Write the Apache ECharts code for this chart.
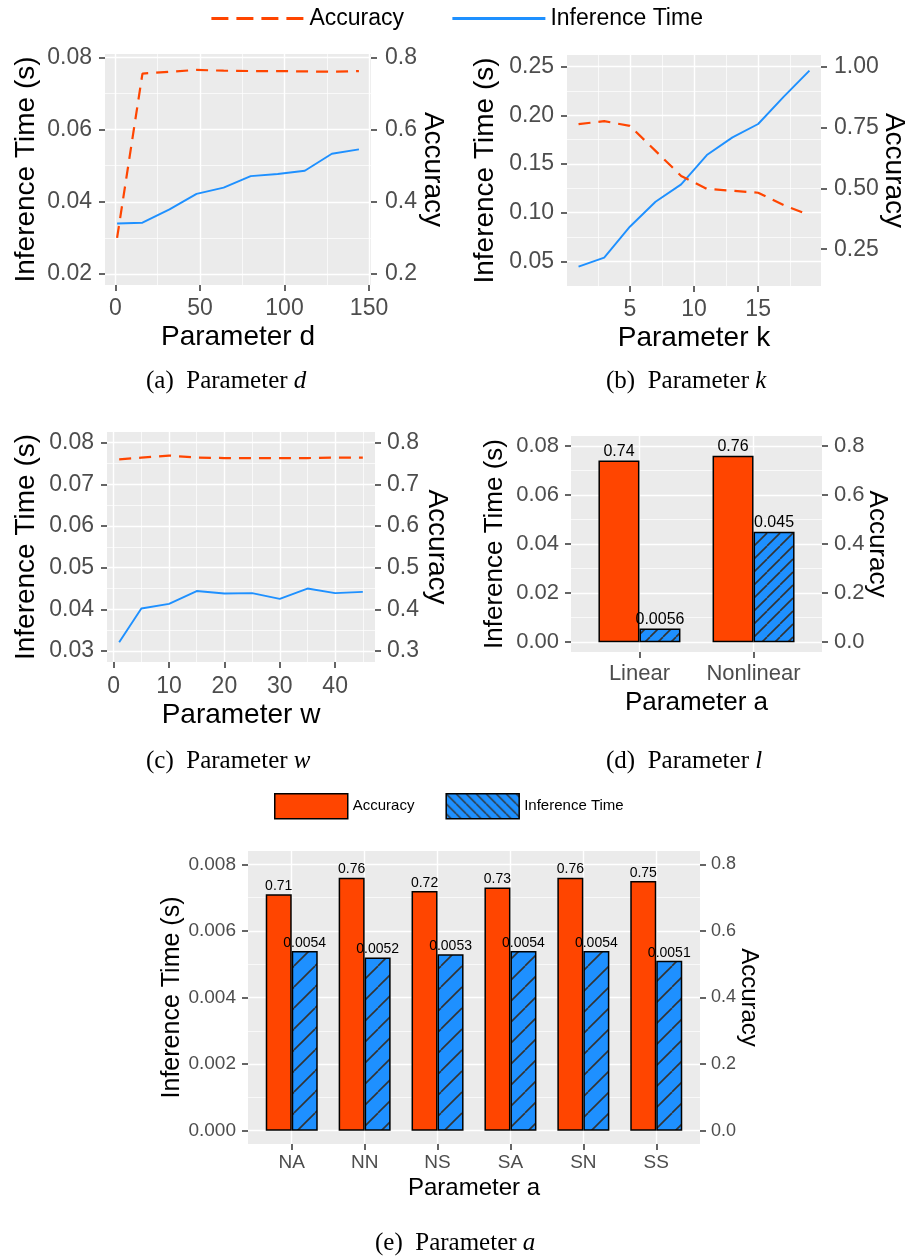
<!DOCTYPE html>
<html><head><meta charset="utf-8">
<script src="https://cdn.jsdelivr.net/npm/echarts@6/dist/echarts.min.js"></script>
<style>html,body{margin:0;padding:0;background:#fff}#c{width:909px;height:1259px}</style>
</head><body><div id="c"></div>
<script>
// ---------- data ----------
const dParam = [1, 16, 32, 48, 64, 80, 96, 112, 128, 144];
const dTime  = [0.0340, 0.0342, 0.0379, 0.0422, 0.0439, 0.0471, 0.0477, 0.0486, 0.0533, 0.0545];
const dAcc   = [0.300, 0.755, 0.760, 0.765, 0.763, 0.762, 0.762, 0.761, 0.760, 0.762];

const kParam = [1, 3, 5, 7, 9, 11, 13, 15, 17, 19];
const kTime  = [0.0445, 0.0538, 0.0856, 0.1113, 0.1291, 0.1592, 0.1774, 0.1911, 0.2192, 0.2459];
const kAcc   = [0.764, 0.776, 0.757, 0.654, 0.551, 0.498, 0.490, 0.482, 0.431, 0.390];

const wParam = [1, 5, 10, 15, 20, 25, 30, 35, 40, 45];
const wTime  = [0.0321, 0.0402, 0.0413, 0.0444, 0.0438, 0.0439, 0.0425, 0.0450, 0.0439, 0.0442];
const wAcc   = [0.760, 0.764, 0.769, 0.764, 0.763, 0.763, 0.763, 0.763, 0.764, 0.764];

const lCats = ['Linear', 'Nonlinear'];
const lAcc  = [0.74, 0.76];
const lTime = [0.0056, 0.045];

const aCats = ['NA', 'NN', 'NS', 'SA', 'SN', 'SS'];
const aAcc  = [0.71, 0.76, 0.72, 0.73, 0.76, 0.75];
const aTime = [0.0054, 0.0052, 0.0053, 0.0054, 0.0054, 0.0051];

// ---------- tick labels ----------
const dXTicks = [0, 50, 100, 150], dXMinor = [25, 75, 125];
const dYTicks = [0.02, 0.04, 0.06, 0.08], dYMinor = [0.03, 0.05, 0.07];
const dAccTicks = [0.2, 0.4, 0.6, 0.8];

const kXTicks = [5, 10, 15], kXMinor = [2.5, 7.5, 12.5, 17.5];
const kYTicks = [0.05, 0.10, 0.15, 0.20, 0.25], kYMinor = [0.075, 0.125, 0.175, 0.225];
const kAccTicks = [0.25, 0.50, 0.75, 1.00];

const wXTicks = [0, 10, 20, 30, 40], wXMinor = [5, 15, 25, 35, 45];
const wYTicks = [0.03, 0.04, 0.05, 0.06, 0.07, 0.08], wYMinor = [0.035, 0.045, 0.055, 0.065, 0.075];
const wAccTicks = [0.3, 0.4, 0.5, 0.6, 0.7, 0.8];

const lYTicks = [0, 0.02, 0.04, 0.06, 0.08], lYMinor = [0.01, 0.03, 0.05, 0.07];
const lAccTicks = [0, 0.2, 0.4, 0.6, 0.8];

const aYTicks = [0, 0.002, 0.004, 0.006, 0.008], aYMinor = [0.001, 0.003, 0.005, 0.007];
const aAccTicks = [0, 0.2, 0.4, 0.6, 0.8];

// ---------- styling helpers ----------
const ORANGE = '#FF4500', BLUE = '#1E90FF', FONT = 'Liberation Sans';
function makeHatch(size, dir, lw) {
  const c = document.createElement('canvas'); c.width = size; c.height = size;
  const g = c.getContext('2d');
  g.fillStyle = BLUE; g.fillRect(0, 0, size, size);
  g.strokeStyle = '#333'; g.lineWidth = lw;
  for (let k = -1; k <= 1; k++) {
    g.beginPath();
    if (dir === '/') { g.moveTo(k * size, size); g.lineTo(k * size + size, 0); }
    else { g.moveTo(k * size, 0); g.lineTo(k * size + size, size); }
    g.stroke();
  }
  return { image: c, repeat: 'repeat' };
}
const hatchD = makeHatch(13, '/', 1.6);
const hatchE = makeHatch(21, '/', 1.6);
const hatchLegend = makeHatch(10, '\\', 1.4);

const option = {
  animation: false,
  textStyle: { fontFamily: FONT },
  grid: [], xAxis: [], yAxis: [], series: [], legend: [], title: []
};

function fmt(n) { return v => Number(v).toFixed(n); }

function addPanel(p) {
  const gi = option.grid.length;
  option.grid.push({ left: p.left, top: p.top, width: p.width, height: p.height, show: true,
    backgroundColor: '#EBEBEB', borderWidth: 0, containLabel: false, outerBoundsMode: 'none' });
  const xi = option.xAxis.length, yi = option.yAxis.length;
  const tickStyle = { show: true, length: 6, lineStyle: { color: '#333', width: 1.5 } };
  const labStyle = { show: true, fontSize: p.tickSize, color: '#4D4D4D', fontFamily: FONT };
  option.xAxis.push({ type: 'value', gridIndex: gi, position: 'bottom', min: p.xMin, max: p.xMax,
    name: p.xName, nameLocation: 'middle', nameGap: p.xNameGap, nameMoveOverlap: false,
    nameTextStyle: { fontSize: p.titleSize, color: '#000', fontFamily: FONT },
    axisLine: { show: false, onZero: false },
    axisTick: Object.assign({}, tickStyle, { customValues: p.xTicks }),
    axisLabel: Object.assign({}, labStyle, { customValues: p.xTicks, formatter: p.xFmt, margin: p.xLabelMargin }),
    splitLine: { show: true, lineStyle: { color: '#fff', width: 1.4 } } });
  option.xAxis.push({ type: 'value', gridIndex: gi, position: 'top', min: p.xMin, max: p.xMax,
    axisLine: { show: false, onZero: false }, axisTick: { show: false, customValues: p.xMinor },
    axisLabel: { show: false }, splitLine: { show: p.xMinor.length > 0, lineStyle: { color: '#fff', width: 0.7 } } });
  option.yAxis.push({ type: 'value', gridIndex: gi, position: 'left', min: p.yMin, max: p.yMax,
    name: 'Inference Time (s)', nameLocation: 'middle', nameGap: p.yNameGap, nameRotate: 90, nameMoveOverlap: false,
    nameTextStyle: { fontSize: p.yTitleSize || p.titleSize, color: '#000', fontFamily: FONT },
    axisLine: { show: false, onZero: false },
    axisTick: Object.assign({}, tickStyle, { customValues: p.yTicks }),
    axisLabel: Object.assign({}, labStyle, { customValues: p.yTicks, formatter: fmt(p.yDec), margin: p.yLabelMargin }),
    splitLine: { show: true, lineStyle: { color: '#fff', width: 1.4 } } });
  option.yAxis.push({ type: 'value', gridIndex: gi, position: 'right', min: p.yMin * p.factor, max: p.yMax * p.factor,
    name: 'Accuracy', nameLocation: 'middle', nameGap: p.rNameGap, nameRotate: -90, nameMoveOverlap: false,
    nameTextStyle: { fontSize: p.titleSize, color: '#000', fontFamily: FONT },
    axisLine: { show: false, onZero: false },
    axisTick: Object.assign({}, tickStyle, { customValues: p.accTicks }),
    axisLabel: Object.assign({}, labStyle, { fontSize: p.rTickSize || p.tickSize, customValues: p.accTicks, formatter: fmt(p.accDec), margin: p.rLabelMargin }),
    splitLine: { show: false } });
  option.yAxis.push({ type: 'value', gridIndex: gi, position: 'left', min: p.yMin, max: p.yMax,
    axisLine: { show: false, onZero: false }, axisTick: { show: false, customValues: p.yMinor },
    axisLabel: { show: false }, splitLine: { show: true, lineStyle: { color: '#fff', width: 0.7 } } });

  if (p.kind === 'line') {
    option.series.push({ type: 'line', name: 'Accuracy', xAxisIndex: xi, yAxisIndex: yi + 1,
      data: p.param.map((x, i) => [x, p.acc[i]]), symbol: 'none', z: 3,
      lineStyle: { color: ORANGE, width: 2.2, type: [12, 8] }, itemStyle: { color: ORANGE } });
    option.series.push({ type: 'line', name: 'Inference Time', xAxisIndex: xi, yAxisIndex: yi,
      data: p.param.map((x, i) => [x, p.time[i]]), symbol: 'none', z: 2,
      lineStyle: { color: BLUE, width: 1.9 }, itemStyle: { color: BLUE } });
  } else {
    const lab = { show: true, position: 'top', distance: 1, fontSize: p.labelSize, color: '#000', fontFamily: FONT,
      formatter: q => String(q.value[1]) };
    option.series.push({ type: 'bar', name: 'Accuracy', xAxisIndex: xi, yAxisIndex: yi + 1,
      data: p.cats.map((c, i) => [i + 1, p.acc[i]]), barWidth: p.barW, barGap: '0%',
      itemStyle: { color: ORANGE, borderColor: '#000', borderWidth: 1.5 }, label: lab });
    option.series.push({ type: 'bar', name: 'Inference Time', xAxisIndex: xi, yAxisIndex: yi,
      data: p.cats.map((c, i) => [i + 1, p.time[i]]), barWidth: p.barW, barGap: '0%',
      itemStyle: { color: p.hatch, borderColor: '#000', borderWidth: 1.5 }, label: lab });
  }
}

const intFmt = v => String(Math.round(v));

addPanel({ kind: 'line', left: 105, top: 54, width: 266, height: 231,
  xMin: -6.15, xMax: 151.15, xTicks: dXTicks, xMinor: dXMinor, xFmt: intFmt, xName: 'Parameter d',
  yMin: 0.01695, yMax: 0.08092, yTicks: dYTicks, yMinor: dYMinor, yDec: 2,
  factor: 10, accTicks: dAccTicks, accDec: 1,
  tickSize: 23, titleSize: 28, xNameGap: 38, yNameGap: 65, rNameGap: 48,
  xLabelMargin: 12, yLabelMargin: 13, rLabelMargin: 14,
  param: dParam, time: dTime, acc: dAcc });

addPanel({ kind: 'line', left: 567, top: 55, width: 254, height: 231,
  xMin: 0.1, xMax: 19.9, xTicks: kXTicks, xMinor: kXMinor, xFmt: intFmt, xName: 'Parameter k',
  yMin: 0.0247, yMax: 0.262, yTicks: kYTicks, yMinor: kYMinor, yDec: 2,
  factor: 4, accTicks: kAccTicks, accDec: 2,
  tickSize: 23, titleSize: 28, xNameGap: 38, yNameGap: 68, rNameGap: 59,
  xLabelMargin: 12, yLabelMargin: 13, rLabelMargin: 13,
  param: kParam, time: kTime, acc: kAcc });

addPanel({ kind: 'line', left: 107, top: 432, width: 268, height: 230,
  xMin: -1.2, xMax: 47.2, xTicks: wXTicks, xMinor: wXMinor, xFmt: intFmt, xName: 'Parameter w',
  yMin: 0.02737, yMax: 0.08255, yTicks: wYTicks, yMinor: wYMinor, yDec: 2,
  factor: 10, accTicks: wAccTicks, accDec: 1,
  tickSize: 23, titleSize: 28, xNameGap: 39, yNameGap: 67, rNameGap: 48,
  xLabelMargin: 13, yLabelMargin: 13, rLabelMargin: 12,
  param: wParam, time: wTime, acc: wAcc });

addPanel({ kind: 'bar', left: 571, top: 436, width: 251, height: 216,
  xMin: 0.4, xMax: 2.6, xTicks: [1, 2], xMinor: [], xFmt: v => lCats[Math.round(v) - 1], xName: 'Parameter a',
  yMin: -0.004, yMax: 0.084, yTicks: lYTicks, yMinor: lYMinor, yDec: 2,
  factor: 10, accTicks: lAccTicks, accDec: 1,
  tickSize: 22, titleSize: 26, xNameGap: 38, yNameGap: 63, rNameGap: 42,
  xLabelMargin: 11, yLabelMargin: 12, rLabelMargin: 12,
  cats: lCats, time: lTime, acc: lAcc, barW: 41, labelSize: 16, hatch: hatchD });

addPanel({ kind: 'bar', left: 248, top: 851, width: 452, height: 293,
  xMin: 0.4, xMax: 6.6, xTicks: [1, 2, 3, 4, 5, 6], xMinor: [], xFmt: v => aCats[Math.round(v) - 1], xName: 'Parameter a',
  yMin: -0.0004, yMax: 0.0084, yTicks: aYTicks, yMinor: aYMinor, yDec: 3,
  factor: 100, accTicks: aAccTicks, accDec: 1,
  tickSize: 19, rTickSize: 18, titleSize: 24, yTitleSize: 25, xNameGap: 32, yNameGap: 63, rNameGap: 37,
  xLabelMargin: 9, yLabelMargin: 12, rLabelMargin: 11,
  cats: aCats, time: aTime, acc: aAcc, barW: 26, labelSize: 14, hatch: hatchE });

option.legend.push({ left: 210, top: 7, padding: 0, itemWidth: 93, itemHeight: 23, itemGap: 47,
  selectedMode: false, itemStyle: { opacity: 0 },
  data: [
    { name: 'Accuracy', lineStyle: { width: 2.8, type: [17, 8] } },
    { name: 'Inference Time', lineStyle: { width: 2.8 } }
  ],
  textStyle: { fontSize: 23, color: '#000', fontFamily: FONT } });
option.legend.push({ left: 274, top: 793, padding: 0, itemWidth: 73, itemHeight: 25, itemGap: 31,
  selectedMode: false,
  data: [
    { name: 'Accuracy', icon: 'rect', itemStyle: { color: ORANGE, borderColor: '#000', borderWidth: 1.5, opacity: 1 } },
    { name: 'Inference Time', icon: 'rect', itemStyle: { color: hatchLegend, borderColor: '#000', borderWidth: 1.5, opacity: 1 } }
  ],
  textStyle: { fontSize: 15, color: '#000', fontFamily: FONT } });

const captions = [
  ['(a)  Parameter {i|d}', 146, 369], ['(b)  Parameter {i|k}', 606, 369],
  ['(c)  Parameter {i|w}', 146, 749], ['(d)  Parameter {i|l}', 606, 749],
  ['(e)  Parameter {i|a}', 375, 1231]
];
captions.forEach(c => option.title.push({ text: c[0], left: c[1], top: c[2], padding: 0,
  textStyle: { fontFamily: 'Liberation Serif', fontSize: 25, fontWeight: 'normal', color: '#000',
    rich: { i: { fontFamily: 'Liberation Serif', fontSize: 25, fontStyle: 'italic', color: '#000' } } } }));

const chart = echarts.init(document.getElementById('c'), null, { renderer: 'canvas' });
chart.setOption(option);
</script></body></html>
